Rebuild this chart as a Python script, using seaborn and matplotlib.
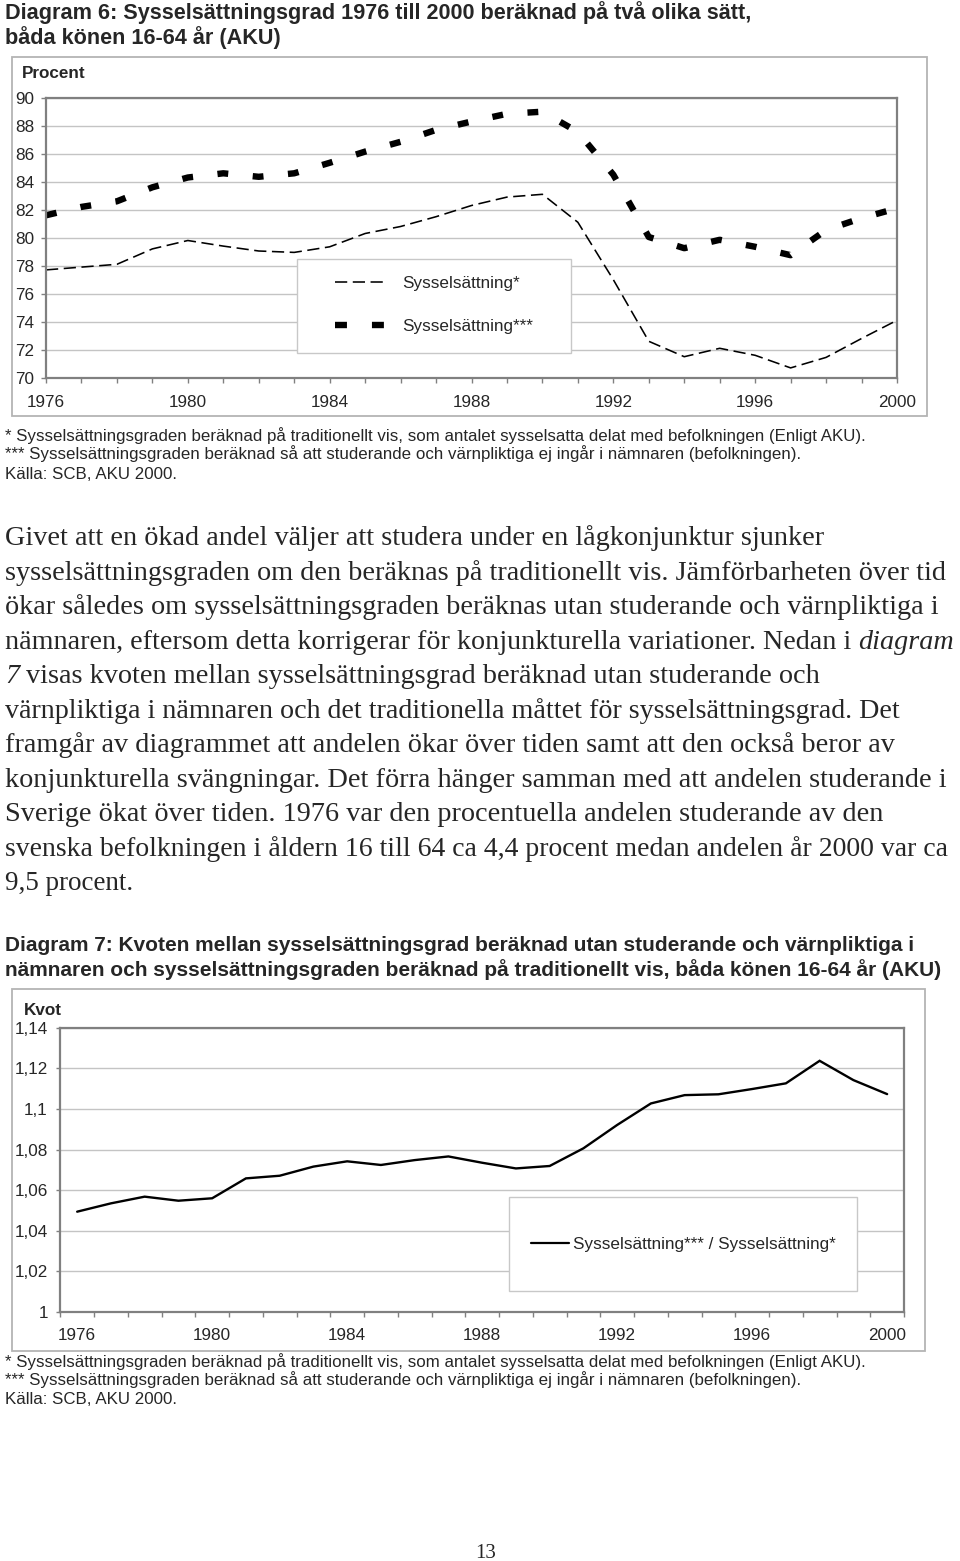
import numpy as np
import pandas as pd
import matplotlib
matplotlib.use("Agg")
import matplotlib.pyplot as plt
import seaborn as sns
from matplotlib.patches import Rectangle
from matplotlib.lines import Line2D

# ---------------- data ----------------
years = list(range(1976, 2001))
syss_trad = [77.7, 77.9, 78.1, 79.2, 79.8, 79.4, 79.05, 78.95, 79.35, 80.3, 80.8, 81.5, 82.3,
             82.9, 83.1, 81.1, 77.0, 72.6, 71.5, 72.1, 71.6, 70.7, 71.45, 72.8, 74.1]
syss_exkl = [81.6, 82.2, 82.6, 83.6, 84.3, 84.6, 84.35, 84.6, 85.35, 86.15, 86.85, 87.7, 88.3,
             88.85, 89.0, 87.55, 84.5, 80.05, 79.25, 79.85, 79.35, 78.75, 80.55, 81.4, 82.1]
kvot = [1.0494, 1.0535, 1.0568, 1.0548, 1.0560, 1.0658, 1.0671, 1.0716, 1.0742, 1.0724, 1.0748,
        1.0766, 1.0735, 1.0707, 1.0719, 1.0806, 1.0921, 1.1027, 1.1068, 1.1072, 1.1098, 1.1126,
        1.1237, 1.1142, 1.1073]
series1 = ["Sysselsättning*", "Sysselsättning***"]
series2 = "Sysselsättning*** / Sysselsättning*"
yticks1 = list(range(70, 91, 2))
yticks2 = [1.00, 1.02, 1.04, 1.06, 1.08, 1.10, 1.12, 1.14]
yticklabels2 = ["1", "1,02", "1,04", "1,06", "1,08", "1,1", "1,12", "1,14"]
label_years = [1976, 1980, 1984, 1988, 1992, 1996, 2000]

title6 = ["Diagram 6: Sysselsättningsgrad 1976 till 2000 beräknad på två olika sätt,",
          "båda könen 16-64 år (AKU)"]
title7 = ["Diagram 7: Kvoten mellan sysselsättningsgrad beräknad utan studerande och värnpliktiga i",
          "nämnaren och sysselsättningsgraden beräknad på traditionellt vis, båda könen 16-64 år (AKU)"]
notes = ["* Sysselsättningsgraden beräknad på traditionellt vis, som antalet sysselsatta delat med befolkningen (Enligt AKU).",
         "*** Sysselsättningsgraden beräknad så att studerande och värnpliktiga ej ingår i nämnaren (befolkningen).",
         "Källa: SCB, AKU 2000."]
body = [
    ("", "Givet att en ökad andel väljer att studera under en lågkonjunktur sjunker", ""),
    ("", "sysselsättningsgraden om den beräknas på traditionellt vis. Jämförbarheten över tid", ""),
    ("", "ökar således om sysselsättningsgraden beräknas utan studerande och värnpliktiga i", ""),
    ("", "nämnaren, eftersom detta korrigerar för konjunkturella variationer. Nedan i", "diagram"),
    ("7", "visas kvoten mellan sysselsättningsgrad beräknad utan studerande och", ""),
    ("", "värnpliktiga i nämnaren och det traditionella måttet för sysselsättningsgrad. Det", ""),
    ("", "framgår av diagrammet att andelen ökar över tiden samt att den också beror av", ""),
    ("", "konjunkturella svängningar. Det förra hänger samman med att andelen studerande i", ""),
    ("", "Sverige ökat över tiden. 1976 var den procentuella andelen studerande av den", ""),
    ("", "svenska befolkningen i åldern 16 till 64 ca 4,4 procent medan andelen år 2000 var ca", ""),
    ("", "9,5 procent.", ""),
]

# ---------------- style ----------------
sns.set_style("white")
plt.rcParams["font.family"] = ["Liberation Sans", "DejaVu Sans"]
plt.rcParams["lines.scale_dashes"] = False

W, H = 960, 1561
fig = plt.figure(figsize=(W / 100, H / 100), dpi=100)
fig.patch.set_facecolor("white")
renderer = fig.canvas.get_renderer()


def rect(x0, y0, x1, y1):
    return [x0 / W, 1 - y1 / H, (x1 - x0) / W, (y1 - y0) / H]


def fx(x):
    return x / W


def fy(y):
    return 1 - y / H


GRID = "#c4c4c4"
AX = "#808080"
FRAME = "#b4b4b4"
TICKFS = 12.3
NOTEFS = 12.15

# ---------------- Diagram 6 ----------------
for i, t in enumerate(title6):
    fig.text(fx(5), fy(18.5 + 25.5 * i), t, fontsize=15.6, fontweight="bold", va="baseline")

fig.add_artist(Rectangle((fx(12), fy(416)), (927 - 12) / W, (416 - 57) / H,
                         transform=fig.transFigure, fill=False, edgecolor=FRAME, lw=1.3, zorder=0))

ax1 = fig.add_axes(rect(46, 97.7, 897, 377.7))
df1 = pd.DataFrame({"År": years * 2, "Procent": syss_trad + syss_exkl,
                    "Serie": [series1[0]] * len(years) + [series1[1]] * len(years)})
sns.lineplot(data=df1[df1["Serie"] == series1[0]], x="År", y="Procent", ax=ax1,
             color="black", linewidth=1.15, legend=False)
sns.lineplot(data=df1[df1["Serie"] == series1[1]], x="År", y="Procent", ax=ax1,
             color="black", linewidth=4.6, legend=False)
l_thin, l_thick = ax1.lines[0], ax1.lines[1]
l_thin.set_dashes([8.8, 4.0])
l_thick.set_dashes([7.8, 17.7])
for l in (l_thin, l_thick):
    l.set_dash_capstyle("butt")
    l.set_solid_capstyle("butt")
    l.set_clip_on(False)

ax1.set_xlim(1976, 2000)
ax1.set_ylim(70, 90)
ax1.set_xticks(years)
ax1.set_xticklabels([str(y) if y in label_years else "" for y in years])
ax1.set_yticks(yticks1)
ax1.set_yticklabels([str(v) for v in yticks1])
ax1.set_xlabel("")
ax1.set_ylabel("")
ax1.yaxis.grid(True, color=GRID, lw=1.0)
ax1.xaxis.grid(False)
ax1.set_axisbelow(True)
for s in ax1.spines.values():
    s.set_color(AX)
    s.set_linewidth(1.6)
ax1.tick_params(axis="x", length=3.8, width=1, color=AX, pad=9.0, labelsize=TICKFS, bottom=True)
ax1.tick_params(axis="y", length=3.8, width=1, color=AX, pad=4.6, labelsize=TICKFS, left=True)
fig.text(fx(22), fy(78.5), "Procent", fontsize=TICKFS, fontweight="bold", va="baseline")

fig.add_artist(Rectangle((fx(297), fy(353)), (571 - 297) / W, (353 - 259) / H,
                         transform=fig.transFigure, facecolor="white", edgecolor="#c8c8c8", lw=1.0, zorder=1))
h1 = [Line2D([], [], color="black", lw=1.15, dashes=[8.8, 4.0], dash_capstyle="butt"),
      Line2D([], [], color="black", lw=4.6, dashes=[8.6, 18.0], dash_capstyle="butt")]
leg1 = ax1.legend(h1, series1, loc="center left", bbox_to_anchor=(fx(335), fy(305)),
                  bbox_transform=fig.transFigure, frameon=False, fontsize=TICKFS,
                  handlelength=2.9, handletextpad=1.05, labelspacing=1.6, borderpad=0,
                  borderaxespad=0)
leg1.set_zorder(5)
fig.add_artist(leg1)

for i, t in enumerate(notes):
    fig.text(fx(5), fy(440.5 + 19 * i), t, fontsize=NOTEFS, va="baseline")

# ---------------- body text ----------------
SERIF = ["Liberation Serif", "DejaVu Serif"]
ref_right = [828, 948, 946, 953, 825, 897, 897, 955, 882, 945, 133]
ref_w = {0: 823, 1: 943, 2: 941, 7: 950, 9: 940}
probe_size = 18


def width_of(s, fs, italic=False):
    t = fig.text(0, 0, s, fontsize=fs, family=SERIF, style="italic" if italic else "normal")
    w = t.get_window_extent(renderer).width
    t.remove()
    return w


tot = sum(width_of(body[k][1], probe_size) for k in ref_w)
body_fs = probe_size * sum(ref_w.values()) / tot

for i, (pre, mid, post) in enumerate(body):
    fs = body_fs
    space_w = width_of("a a", fs) - width_of("aa", fs)
    full = (width_of(pre, fs, True) + space_w if pre else 0) + width_of(mid, fs) + \
           (space_w + width_of(post, fs, True) if post else 0)
    limit = ref_right[i] - 5
    if full > limit + 4:
        fs = fs * limit / full
        space_w = width_of("a a", fs) - width_of("aa", fs)
    yb = fy(545 + 34.55 * i)
    x = 5.0
    if pre:
        t = fig.text(fx(x), yb, pre, fontsize=fs, family=SERIF, style="italic", va="baseline")
        x += t.get_window_extent(renderer).width + space_w
    t = fig.text(fx(x), yb, mid, fontsize=fs, family=SERIF, va="baseline")
    x += t.get_window_extent(renderer).width + space_w
    if post:
        fig.text(fx(x), yb, post, fontsize=fs, family=SERIF, style="italic", va="baseline")

# ---------------- Diagram 7 ----------------
for i, t in enumerate(title7):
    fig.text(fx(5), fy(950.5 + 25 * i), t, fontsize=15.0, fontweight="bold", va="baseline")

fig.add_artist(Rectangle((fx(12), fy(1351)), (925 - 12) / W, (1351 - 989) / H,
                         transform=fig.transFigure, fill=False, edgecolor=FRAME, lw=1.3, zorder=0))

ax2 = fig.add_axes(rect(60.3, 1027.7, 904, 1312))
df2 = pd.DataFrame({"År": years, "Kvot": kvot})
sns.lineplot(data=df2, x="År", y="Kvot", ax=ax2, color="black", linewidth=1.7, legend=False)
ax2.lines[0].set_solid_joinstyle("miter")
ax2.set_xlim(1975.5, 2000.5)
ax2.set_ylim(1.0, 1.14)
ax2.set_xticks(np.arange(1975.5, 2001.0, 1.0))
ax2.set_xticklabels([])
ax2.set_xticks(label_years, minor=True)
ax2.set_xticklabels([str(y) for y in label_years], minor=True)
ax2.set_yticks(yticks2)
ax2.set_yticklabels(yticklabels2)
ax2.set_xlabel("")
ax2.set_ylabel("")
ax2.yaxis.grid(True, color=GRID, lw=1.0)
ax2.xaxis.grid(False)
ax2.set_axisbelow(True)
for s in ax2.spines.values():
    s.set_color(AX)
    s.set_linewidth(1.6)
ax2.tick_params(axis="x", which="major", length=3.8, width=1, color=AX, bottom=True)
ax2.tick_params(axis="x", which="minor", length=0, pad=11.5, labelsize=TICKFS, bottom=True)
ax2.tick_params(axis="y", length=3.0, width=1, color=AX, pad=6.0, labelsize=TICKFS, left=True)
fig.text(fx(24), fy(1015), "Kvot", fontsize=TICKFS, fontweight="bold", va="baseline")

fig.add_artist(Rectangle((fx(509), fy(1291)), (857 - 509) / W, (1291 - 1197) / H,
                         transform=fig.transFigure, facecolor="white", edgecolor="#c8c8c8", lw=1.0, zorder=1))
h2 = [Line2D([], [], color="black", lw=1.6)]
leg2 = ax2.legend(h2, [series2], loc="center left", bbox_to_anchor=(fx(531), fy(1244)),
                  bbox_transform=fig.transFigure, frameon=False, fontsize=TICKFS,
                  handlelength=2.2, handletextpad=0.25, borderpad=0, borderaxespad=0)
leg2.set_zorder(5)
fig.add_artist(leg2)

for i, t in enumerate(notes):
    fig.text(fx(5), fy(1366.5 + 19 * i), t, fontsize=NOTEFS, va="baseline")

fig.text(fx(486), fy(1558), "13", fontsize=15, family=SERIF, ha="center", va="baseline")

fig.savefig("out.png", dpi=100, facecolor="white")
